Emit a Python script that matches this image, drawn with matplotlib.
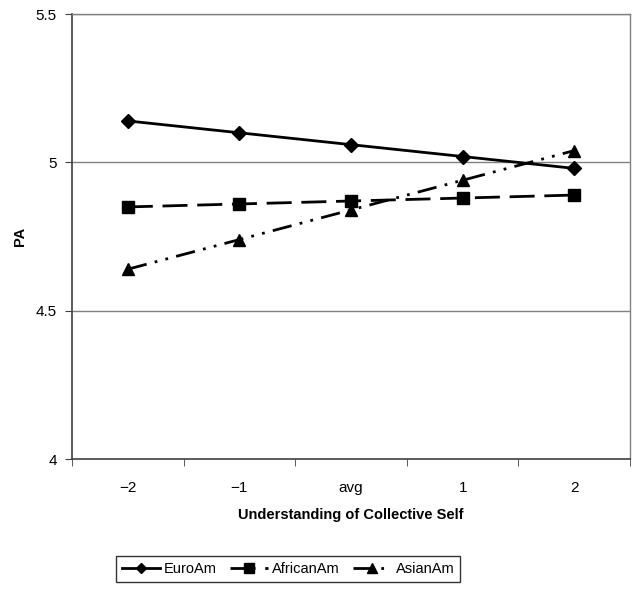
import matplotlib
matplotlib.use("Agg")
import matplotlib.pyplot as plt

categories = ["\u22122", "\u22121", "avg", "1", "2"]
euro_am = [5.14, 5.10, 5.06, 5.02, 4.98]
african_am = [4.85, 4.86, 4.87, 4.88, 4.89]
asian_am = [4.64, 4.74, 4.84, 4.94, 5.04]
y_ticks = [4, 4.5, 5, 5.5]
y_tick_labels = ["4", "4.5", "5", "5.5"]

plt.rcParams['font.family'] = ['Liberation Sans', 'DejaVu Sans']

fig = plt.figure(figsize=(6.4, 5.9), dpi=100)
ax = fig.add_axes([0.1125, 0.222, 0.872, 0.754])

x = list(range(len(categories)))

for yv in y_ticks[1:]:
    ax.axhline(yv, color="#808080", lw=1.0, zorder=1)

ax.plot(x, euro_am, color="black", lw=2.0, marker="D", markersize=7,
        label="EuroAm", zorder=3)
ax.plot(x, african_am, color="black", lw=2.0, marker="s", markersize=9,
        dashes=(9, 3.5), label="AfricanAm", zorder=3)
ax.plot(x, asian_am, color="black", lw=2.0, marker="^", markersize=9,
        dashes=(7, 3, 1, 3, 1, 3), label="AsianAm", zorder=3)

ax.set_xlim(-0.5, len(categories) - 0.5)
ax.set_ylim(4, 5.5)
ax.set_yticks(y_ticks)
ax.set_yticklabels(y_tick_labels)
ax.set_xticks(x)
ax.set_xticklabels(categories)
ax.set_xticks([i - 0.5 for i in range(len(categories) + 1)], minor=True)
ax.tick_params(axis="x", which="major", length=0, pad=16, labelsize=11)
ax.tick_params(axis="x", which="minor", length=5, direction="out", color="#404040")
ax.tick_params(axis="y", length=5, direction="out", color="#404040", labelsize=11, pad=6)

for side in ["top", "right"]:
    ax.spines[side].set_color("#808080")
    ax.spines[side].set_linewidth(1.0)
for side in ["left", "bottom"]:
    ax.spines[side].set_color("#404040")
    ax.spines[side].set_linewidth(1.2)

ax.set_xlabel("Understanding of Collective Self", fontsize=10.5, fontweight="bold", labelpad=9)
ax.set_ylabel("PA", fontsize=10.5, fontweight="bold", labelpad=6)

leg = fig.legend(loc="center", bbox_to_anchor=(288 / 640, 1 - 569 / 590), ncol=3,
                 frameon=True, fancybox=False, edgecolor="black", fontsize=10.5,
                 handlelength=2.6, columnspacing=0.9, handletextpad=0.3,
                 borderpad=0.4, markerscale=0.75)
leg.get_frame().set_linewidth(1.0)

fig.savefig("out.png", dpi=100, facecolor="white")
